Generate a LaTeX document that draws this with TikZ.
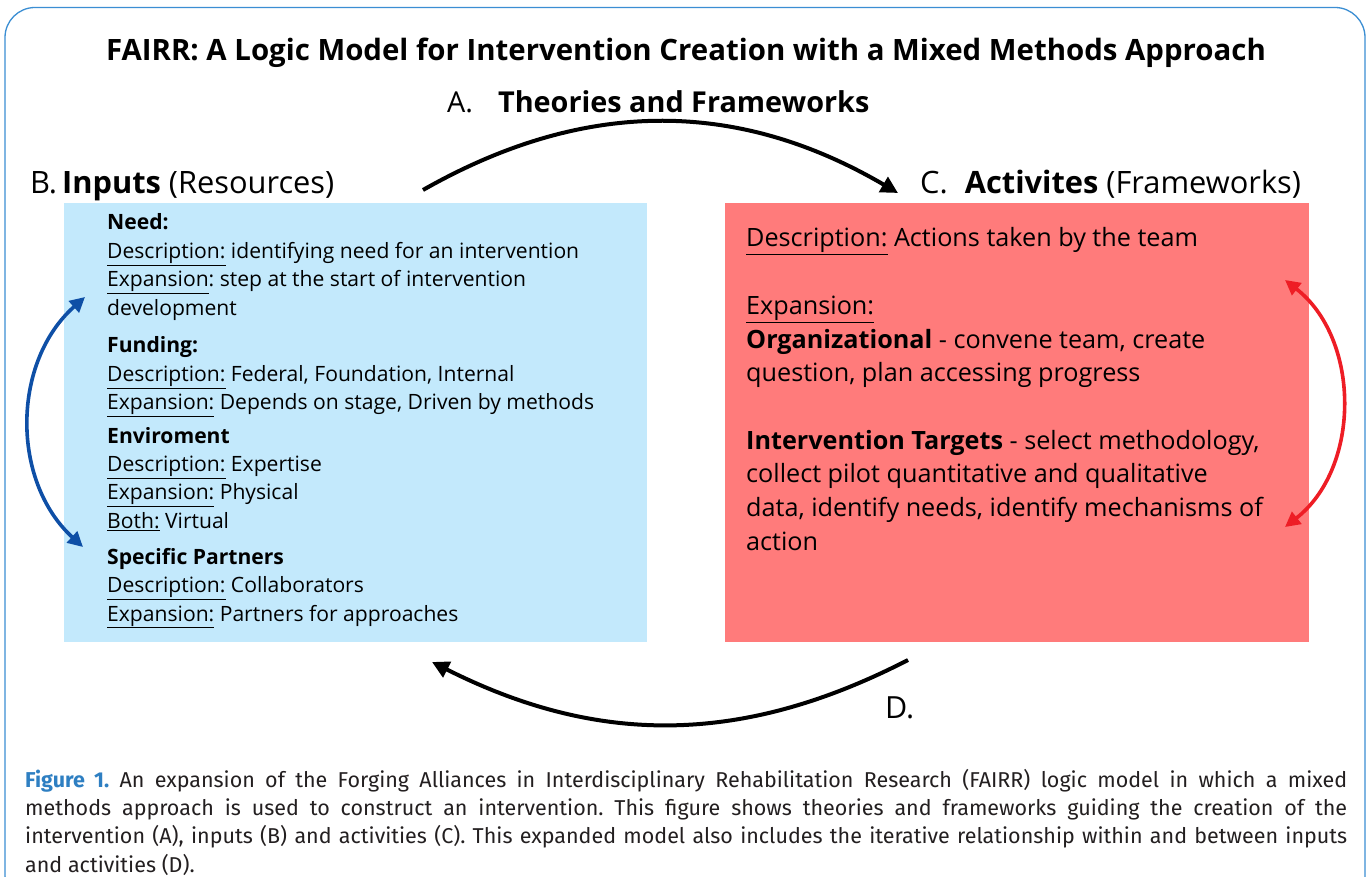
\documentclass[tikz,border=0pt]{standalone}
\usepackage{fontspec}
\setmainfont{Open Sans}
\newfontfamily\capfont{Fira Sans}
\usetikzlibrary{arrows.meta}
\definecolor{frameblue}{HTML}{3B8ED3}
\definecolor{inbox}{HTML}{C3E9FC}
\definecolor{actbox}{HTML}{FF7B7B}
\definecolor{arrblue}{HTML}{0E4FA6}
\definecolor{arrred}{HTML}{EE1D25}
\definecolor{capblue}{HTML}{2E7FC2}
\definecolor{captext}{HTML}{231F20}
\frenchspacing
\begin{document}
\begin{tikzpicture}[x=1pt,y=-1pt,
  lbl/.style={inner sep=0pt, anchor=base west, text=black},
  panel/.style={draw=none, inner sep=0pt, anchor=north west},
  bigarrow/.style={line width=4pt, draw=black, -{Triangle[length=17pt,width=17pt]}},
  loopblue/.style={line width=3.6pt, draw=arrblue, {Triangle[length=15pt,width=15pt]}-{Triangle[length=15pt,width=15pt]}},
  loopred/.style={line width=3.6pt, draw=arrred, {Triangle[length=15pt,width=15pt]}-{Triangle[length=15pt,width=15pt]}}
]
\useasboundingbox (0,0) rectangle (1366,877);
\clip (0,0) rectangle (1366,877);
\fill[white] (0,0) rectangle (1366,877);
\draw[frameblue, line width=1.3pt, rounded corners=30pt] (5,7.5) rectangle (1365,905);

% title
\node[inner sep=0pt, anchor=base] (title) at (686,61)
  {\fontsize{29.4}{34}\selectfont\bfseries FAIRR: A Logic Model for Intervention Creation with a Mixed Methods Approach};

% headers
\node[lbl] (labA) at (447,113) {\fontsize{28.8}{32}\selectfont A.\hspace{25pt}\textbf{Theories and Frameworks}};
\node[lbl] (labB) at (30,194) {\fontsize{30.8}{34}\selectfont B.\hspace{5pt}\textbf{Inputs} (Resources)};
\node[lbl] (labC) at (920,194) {\fontsize{30.8}{34}\selectfont C.\hspace{17pt}\textbf{Activites} (Frameworks)};
\node[lbl] (labD) at (885,718) {\fontsize{30.5}{34}\selectfont D.};

% panels
\node[panel, fill=inbox, minimum width=583pt, minimum height=439pt] (inputs) at (64,203) {};
\node[panel, fill=actbox, minimum width=584pt, minimum height=439pt] (acts) at (725,203) {};

% input texts
\node[lbl] (need) at (107,230) {\parbox[t]{530pt}{\fontsize{21.1}{28.5}\selectfont
  \textbf{Need:}\\
  \underline{Description:} identifying need for an intervention\\
  \underline{Expansion}: step at the start of intervention\\
  development}};
\node[lbl] (fund) at (107,353) {\parbox[t]{530pt}{\fontsize{21.1}{28.5}\selectfont
  \textbf{Funding:}\\
  \underline{Description:} Federal, Foundation, Internal\\
  \underline{Expansion:} Depends on stage, Driven by methods}};
\node[lbl] (env) at (107,443) {\parbox[t]{530pt}{\fontsize{21.1}{28.4}\selectfont
  \textbf{Enviroment}\\
  \underline{Description:} Expertise\\
  \underline{Expansion:} Physical\\
  \underline{Both:} Virtual}};
\node[lbl] (part) at (107,564) {\parbox[t]{530pt}{\fontsize{21.1}{28.5}\selectfont
  \textbf{Specific Partners}\\
  \underline{Description:} Collaborators\\
  \underline{Expansion:} Partners for approaches}};

% activity texts
\node[lbl] (acttext) at (746,247) {\parbox[t]{555pt}{\fontsize{25.2}{33.7}\selectfont
  \underline{Description:} Actions taken by the team\\
  \mbox{}\\
  \underline{Expansion:}\\
  \textbf{Organizational} - convene team, create\\
  question, plan accessing progress\\
  \mbox{}\\
  \textbf{Intervention Targets} - select methodology,\\
  collect pilot quantitative and qualitative\\
  data, identify needs, identify mechanisms of\\
  action}};

% connectors
\coordinate (aS) at (423,190);
\coordinate (aE) at (898,193);
\coordinate (dS) at (908,660);
\coordinate (dE) at (432,662);
\coordinate (bT) at (85,297);
\coordinate (bB) at (83,547);
\coordinate (cT) at (1285,280);
\coordinate (cB) at (1285,527);
\draw[bigarrow] (aS) to[bend left=30] (aE);
\draw[bigarrow] (dS) to[bend left=27] (dE);
\draw[loopblue] (bT) to[bend right=48] (bB);
\draw[loopred] (cT) to[bend left=52] (cB);

% caption
\node[lbl] (caption) at (25,769) {\parbox[t]{1322pt}{\capfont\fontsize{21.5}{28.4}\selectfont\color{captext}
  {\color{capblue}\bfseries Figure 1.} An expansion of the Forging Alliances in Interdisciplinary Rehabilitation Research (FAIRR) logic model in which a mixed\linebreak
  methods approach is used to construct an intervention. This figure shows theories and frameworks guiding the creation of the\linebreak
  intervention (A), inputs (B) and activities (C). This expanded model also includes the iterative relationship within and between inputs\linebreak
  and activities (D).}};
\end{tikzpicture}
\end{document}
